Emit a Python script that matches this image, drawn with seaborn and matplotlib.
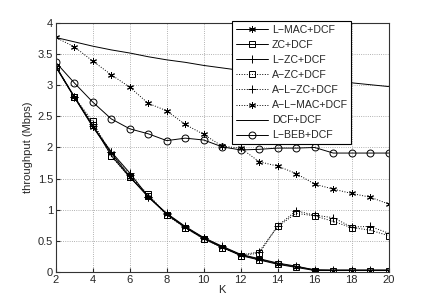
import matplotlib
matplotlib.use("Agg")
import numpy as np
import pandas as pd
import matplotlib.pyplot as plt
import seaborn as sns

# data
K = list(range(2, 21))

l_mac_dcf = [3.30, 2.81, 2.33, 1.91, 1.53, 1.20, 0.93, 0.72, 0.54, 0.40, 0.27,
             0.20, 0.13, 0.08, 0.03, 0.02, 0.02, 0.02, 0.02]
zc_dcf = [3.30, 2.81, 2.36, 1.87, 1.52, 1.22, 0.92, 0.71, 0.53, 0.39, 0.26,
          0.19, 0.12, 0.07, 0.02, 0.02, 0.02, 0.02, 0.02]
l_zc_dcf = [3.31, 2.82, 2.34, 1.93, 1.59, 1.21, 0.94, 0.73, 0.55, 0.41, 0.28,
            0.21, 0.14, 0.09, 0.03, 0.03, 0.03, 0.03, 0.03]
a_zc_dcf = [3.30, 2.81, 2.42, 1.86, 1.52, 1.25, 0.91, 0.71, 0.53, 0.39, 0.26,
            0.30, 0.73, 0.94, 0.90, 0.81, 0.71, 0.67, 0.58]
a_l_zc_dcf = [3.31, 2.81, 2.38, 1.92, 1.56, 1.21, 0.93, 0.72, 0.54, 0.40, 0.27,
              0.32, 0.74, 0.98, 0.91, 0.87, 0.72, 0.73, 0.62]
a_l_mac_dcf = [3.77, 3.62, 3.39, 3.17, 2.97, 2.71, 2.59, 2.37, 2.21, 2.02, 1.99,
               1.77, 1.70, 1.58, 1.41, 1.33, 1.26, 1.20, 1.09]
dcf_dcf = [3.77, 3.70, 3.63, 3.57, 3.52, 3.46, 3.41, 3.37, 3.32, 3.28, 3.24,
           3.20, 3.17, 3.13, 3.10, 3.07, 3.04, 3.01, 2.98]
l_beb_dcf = [3.37, 3.04, 2.73, 2.46, 2.30, 2.22, 2.11, 2.15, 2.12, 2.01, 1.96,
             1.97, 1.99, 1.99, 2.00, 1.91, 1.91, 1.91, 1.91]

labels = ['L\u2212MAC+DCF', 'ZC+DCF', 'L\u2212ZC+DCF', 'A\u2212ZC+DCF',
          'A\u2212L\u2212ZC+DCF', 'A\u2212L\u2212MAC+DCF', 'DCF+DCF', 'L\u2212BEB+DCF']
series = [l_mac_dcf, zc_dcf, l_zc_dcf, a_zc_dcf, a_l_zc_dcf, a_l_mac_dcf, dcf_dcf, l_beb_dcf]

# matlab style asterisk
ast = (6, 2, 0)

# marker / line style per series
styles = [
    dict(marker=ast, linestyle='-', markersize=5),
    dict(marker='s', linestyle='-', markersize=4.5, markerfacecolor='none'),
    dict(marker='+', linestyle='-', markersize=6),
    dict(marker='s', linestyle=':', markersize=4.5, markerfacecolor='none'),
    dict(marker='+', linestyle=':', markersize=6),
    dict(marker=ast, linestyle=':', markersize=5),
    dict(marker='', linestyle='-'),
    dict(marker='o', linestyle='-', markersize=5, markerfacecolor='none'),
]

sns.set_style("ticks")
plt.rcParams['font.family'] = ['Liberation Sans', 'DejaVu Sans']

fig = plt.figure(figsize=(4.29, 3.05), dpi=100)
ax = fig.add_axes([0.130, 0.109, 0.776, 0.815])

for lab, vals, st in zip(labels, series, styles):
    sns.lineplot(x=K, y=vals, ax=ax, color='black', linewidth=0.7,
                 markeredgecolor='black', markeredgewidth=0.7, label=lab, **st)

ax.set_xlim(2, 20)
ax.set_ylim(0, 4)
ax.set_xticks(np.arange(2, 21, 2))
ax.set_yticks(np.arange(0, 4.01, 0.5))
ax.set_yticklabels(['0', '0.5', '1', '1.5', '2', '2.5', '3', '3.5', '4'])
ax.grid(True, linestyle=':', color='#999999', linewidth=0.6)
ax.tick_params(labelsize=8, direction='in', length=3, pad=2)
for sp in ax.spines.values():
    sp.set_visible(True)
    sp.set_color('#333333')
    sp.set_linewidth(0.8)

ax.set_xlabel('K', fontsize=8, labelpad=0)
ax.set_ylabel('throughput (Mbps)', fontsize=8, labelpad=3)

leg = ax.legend(loc='upper left', bbox_to_anchor=(0.530, 1.008), fontsize=7.6,
                frameon=True, fancybox=False, edgecolor='black', framealpha=1,
                handlelength=3.0, handletextpad=0.4, borderpad=0.35,
                labelspacing=0.48, borderaxespad=0)
leg.get_frame().set_linewidth(0.8)

fig.savefig('out.png', dpi=100)
